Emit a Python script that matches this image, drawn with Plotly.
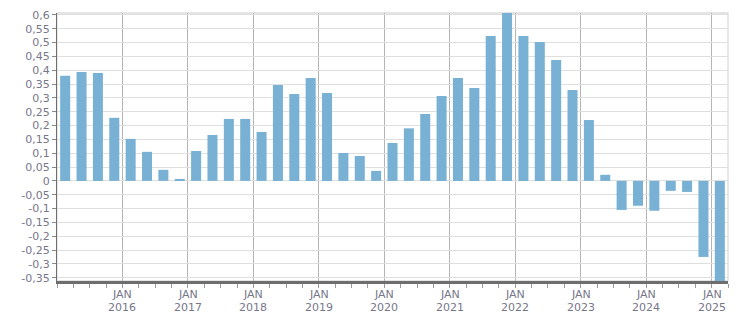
import plotly.graph_objects as go

# Quarterly values, Q1 2015 .. Q1 2025
years = [2015]*4 + [2016]*4 + [2017]*4 + [2018]*4 + [2019]*4 + [2020]*4 + \
        [2021]*4 + [2022]*4 + [2023]*4 + [2024]*4 + [2025]
quarters = [1, 2, 3, 4]*10 + [1]
values = [0.38, 0.394, 0.39, 0.228,
          0.152, 0.105, 0.04, 0.007,
          0.108, 0.166, 0.224, 0.224,
          0.177, 0.347, 0.314, 0.372,
          0.318, 0.101, 0.09, 0.036,
          0.137, 0.19, 0.242, 0.307,
          0.372, 0.336, 0.524, 0.61,
          0.524, 0.502, 0.437, 0.329,
          0.22, 0.022, -0.105, -0.09,
          -0.108, -0.036, -0.04, -0.275,
          -0.37]

ytick_vals = [0.6, 0.55, 0.5, 0.45, 0.4, 0.35, 0.3, 0.25, 0.2, 0.15, 0.1, 0.05, 0,
              -0.05, -0.1, -0.15, -0.2, -0.25, -0.3, -0.35]
ytick_text = ["0,6", "0,55", "0,5", "0,45", "0,4", "0,35", "0,3", "0,25", "0,2", "0,15",
              "0,1", "0,05", "0", "-0,05", "-0,1", "-0,15", "-0,2", "-0,25", "-0,3", "-0,35"]
xtick_vals = [2016, 2017, 2018, 2019, 2020, 2021, 2022, 2023, 2024, 2025]
xtick_month = ["JAN"] * 10
xtick_year = ["2016", "2017", "2018", "2019", "2020", "2021", "2022", "2023", "2024", "2025"]

# bar centred in the middle of each quarter
xpos = [y + (q - 1) * 0.25 + 0.125 for y, q in zip(years, quarters)]

fig = go.Figure()
fig.add_trace(go.Bar(x=xpos, y=values, width=0.153, marker_color="#78b1d4",
                     marker_line_width=0, hoverinfo="skip"))

font_color = "#77778a"

annotations = []
for xv, m, yr in zip(xtick_vals, xtick_month, xtick_year):
    annotations.append(dict(x=xv, y=0, xref="x", yref="paper", text=m, showarrow=False,
                            xanchor="center", yanchor="middle", yshift=-13,
                            font=dict(size=11, color=font_color)))
    annotations.append(dict(x=xv, y=0, xref="x", yref="paper", text=yr, showarrow=False,
                            xanchor="center", yanchor="middle", yshift=-26,
                            font=dict(size=11, color=font_color)))

fig.update_layout(
    width=751, height=313,
    margin=dict(l=57, r=23, t=13, b=32, pad=0),
    paper_bgcolor="white", plot_bgcolor="white",
    showlegend=False,
    font=dict(family="DejaVu Sans", size=11, color=font_color),
    xaxis=dict(
        range=[2015, 2025.25],
        automargin=False,
        tickvals=xtick_vals, showticklabels=False,
        showgrid=True, gridcolor="#b4b4b4", gridwidth=1.3,
        ticks="outside", ticklen=4, tickwidth=1.2, tickcolor="#9a9a9a",
        showline=True, linecolor="#6e6e6e", linewidth=3,
        zeroline=False,
        minor=dict(dtick=0.25, tick0=2015, ticks="outside", ticklen=4,
                   tickwidth=1.2, tickcolor="#9a9a9a", showgrid=False),
    ),
    yaxis=dict(
        range=[-0.362, 0.607],
        automargin=False,
        tickvals=ytick_vals, ticktext=ytick_text,
        showgrid=True, gridcolor="#dfdfdf", gridwidth=1.2,
        ticks="outside", ticklen=4, tickwidth=1, tickcolor="#8a8a8a",
        showline=True, linecolor="#6e6e6e", linewidth=1.3,
        zeroline=False,
        tickfont=dict(size=11, color=font_color),
    ),
    annotations=annotations,
    shapes=[dict(type="rect", xref="paper", yref="paper", x0=0, x1=1, y0=0, y1=1,
                 line=dict(color="#dcdcdc", width=1.3), layer="below")],
)

fig.write_html("out.html")
